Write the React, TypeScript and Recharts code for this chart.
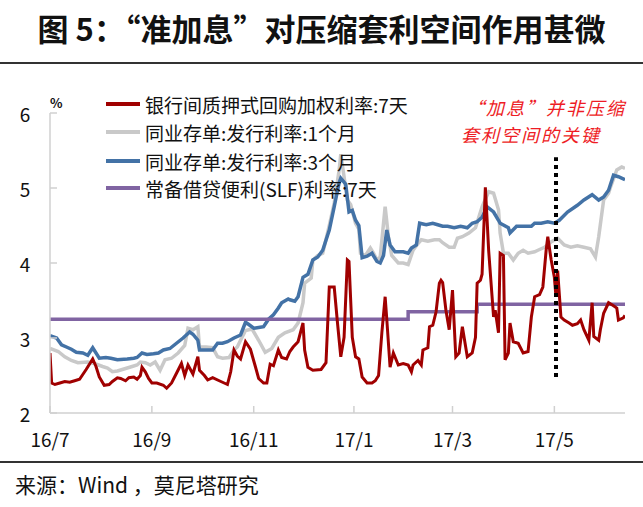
import { LineChart, Line, XAxis, YAxis, ReferenceLine } from "recharts";

// x values are day offsets from 2016-07-01 (approx)
const xTickDays = [0, 62, 124, 185, 245, 307];
const xTickLabels = ["16/7", "16/9", "16/11", "17/1", "17/3", "17/5"];
const yTicks = [2, 3, 4, 5, 6];

// 银行间质押式回购加权利率:7天
const repoDays = [
  0, 1, 3, 6, 9, 12, 15, 18, 22, 26, 28, 30, 33, 36, 38, 41, 43, 46, 48, 51, 53, 55, 56, 58, 60,
  62, 65, 69, 71, 74, 77, 80, 82, 84, 87, 90, 91, 94, 96, 99, 104, 108, 110, 112, 114, 116, 119,
  122, 125, 127, 130, 132, 134, 136, 139, 141, 144, 146, 148, 151, 154, 155, 157, 160, 165, 168,
  170, 173, 175, 177, 179, 181, 182, 184, 186, 188, 190, 193, 196, 198, 200, 202, 204, 205, 207,
  209, 212, 215, 218, 220, 221, 224, 226, 227, 230, 231, 233, 235, 237, 238, 239, 241, 243, 245,
  247, 249, 251, 254, 257, 259, 260, 262, 263, 265, 266, 267, 270, 271, 273, 274, 276, 277, 279,
  280, 282, 285, 288, 291, 293, 295, 298, 300, 302, 303, 305, 307, 308, 309, 311, 313, 316, 318,
  321, 323, 325, 328, 330, 331, 334, 335, 337, 340, 343, 345, 346, 349, 350,
];
const repoRates = [
  2.8, 2.4, 2.38, 2.4, 2.42, 2.41, 2.43, 2.45, 2.58, 2.72, 2.62, 2.48, 2.37, 2.38, 2.42, 2.47, 2.46,
  2.43, 2.47, 2.48, 2.45, 2.5, 2.61, 2.55, 2.46,
  2.4, 2.4, 2.37, 2.33, 2.4, 2.53, 2.66, 2.5, 2.64, 2.52, 2.75, 2.57, 2.5, 2.44, 2.47, 2.42, 2.38,
  2.55, 2.84, 2.76, 2.72, 2.95,
  2.85, 2.62, 2.46, 2.4, 2.4, 2.65, 2.63, 2.84, 2.74, 2.72, 2.82, 2.88, 2.95, 3.2, 2.84, 2.61, 2.57,
  2.58, 2.67,
  3.68, 3.68, 3.2, 2.75, 3.01, 4.04, 4.02, 3.01, 2.75, 2.72, 2.48, 2.4, 2.4, 2.43, 2.5, 3.07, 3.55,
  3.25, 2.61,
  2.8, 2.64, 2.66, 2.64, 2.55, 2.64, 2.7, 2.64, 2.84, 2.87, 3.15, 3.17, 3.35, 3.73, 3.77, 3.74, 3.37,
  3.11, 3.64,
  2.75, 2.8, 3.15, 2.75, 2.8, 3.01, 3.73, 3.77, 3.85, 5.01, 4.6, 4.17, 3.28, 3.37, 3.07, 4.13, 4.1,
  2.71, 2.8,
  3.2, 2.95, 2.93, 2.8, 2.82, 3.28, 3.55, 3.58, 3.68, 4.17, 4.35, 4.05, 3.81, 3.55, 3.9, 3.28, 3.24,
  3.2, 3.17,
  3.19, 3.24, 3.11, 2.97, 3.47, 3.02, 2.97, 3.11, 3.33, 3.47, 3.43, 3.4, 3.24, 3.27, 3.3,
];

// 同业存单:发行利率:1个月
const ncd1mDays = [
  0, 5, 9, 13, 17, 23, 27, 32, 35, 38, 41, 44, 47, 50, 53, 55, 58, 61, 64, 67, 70, 74, 78, 82, 84,
  87, 90, 91, 95, 99, 102, 105, 109, 112, 114, 116, 119, 123, 127, 131, 135, 139, 143, 148, 151,
  154, 155, 159, 160, 163, 166, 170, 173, 176, 177, 179, 181, 183, 186, 188, 189, 192, 195, 197,
  199, 201, 204, 206, 208, 212, 215, 218, 221, 224, 226, 230, 234, 237, 239, 243, 246, 248, 251,
  255, 259, 263, 267, 270, 273, 274, 276, 279, 282, 285, 288, 291, 295, 297, 301, 305, 309, 313,
  317, 321, 325, 329, 332, 334, 337, 340, 341, 345, 348, 350,
];
const ncd1mRates = [
  2.86, 2.82, 2.75, 2.7, 2.67, 2.68, 2.66, 2.62, 2.6, 2.55, 2.56, 2.58, 2.6, 2.62, 2.64, 2.68, 2.67,
  2.64, 2.68, 2.57, 2.71, 2.73, 2.8, 2.9, 3.13,
  3.11, 3.15, 2.88, 2.88, 2.87, 2.75, 2.73, 2.74, 2.84, 2.88, 2.97, 3.1, 3.12, 2.97, 2.81, 2.86,
  3.01, 3.07, 3.11, 3.2,
  3.47, 3.73, 3.8, 4.04, 4.1, 4.13, 4.5, 4.8, 5.24, 5.45, 5.15, 4.84, 4.78, 4.53, 4.45, 4.13, 4.1,
  4.2, 4.13,
  4.04, 4.08, 4.75, 4.35, 4.1, 4.0, 4.0, 3.98, 4.17, 4.26, 4.31, 4.29, 4.31, 4.31, 4.27, 4.21, 4.21,
  4.33, 4.35,
  4.4, 4.47, 4.75, 4.95, 4.93, 4.71, 4.4, 4.13, 4.13, 4.04, 4.13, 4.17, 4.13, 4.15, 4.17, 4.21,
  4.28, 4.33, 4.24,
  4.21, 4.23, 4.21, 4.19, 4.08, 4.35, 4.84, 4.93, 5.0, 5.24, 5.28, 5.26,
];

// 同业存单:发行利率:3个月
const ncd3mDays = [
  0, 4, 7, 10, 13, 16, 20, 23, 26, 30, 34, 37, 41, 47, 51, 53, 56, 59, 63, 66, 69, 73, 77, 81, 85,
  87, 90, 91, 96, 99, 102, 105, 108, 112, 116, 119, 121, 124, 127, 130, 133, 136, 139, 141, 145,
  146, 149, 151, 154, 157, 160, 163, 166, 170, 173, 176, 177, 180, 182, 184, 186, 188, 190, 193,
  196, 199, 201, 203, 205, 207, 210, 215, 218, 220, 223, 225, 229, 233, 236, 239, 242, 246, 250,
  254, 257, 260, 263, 266, 270, 273, 274, 279, 280, 284, 288, 293, 295, 299, 303, 307, 310, 315,
  321, 325, 330, 334, 337, 340, 343, 346, 350,
];
const ncd3mRates = [
  3.03, 3.0, 2.91, 2.88, 2.85, 2.81, 2.8, 2.77, 2.87, 2.73, 2.74, 2.73, 2.71, 2.72, 2.73, 2.74, 2.8,
  2.78, 2.79, 2.8, 2.84, 2.86, 2.93, 3.0, 3.08,
  3.05, 2.97, 2.84, 2.84, 2.84, 2.93, 2.93, 2.95, 3.0, 3.04, 3.21, 3.18, 3.13, 3.14, 3.15, 3.25,
  3.31, 3.4, 3.47, 3.52,
  3.51, 3.49, 3.55, 3.81, 3.85, 4.04, 4.08, 4.17, 4.44, 4.75, 5.07, 5.13, 5.05, 4.68, 4.7, 4.57,
  4.5, 4.07, 4.09,
  4.13, 4.02, 4.0, 4.1, 4.44, 4.24, 4.15, 4.15, 4.13, 4.2, 4.24, 4.53, 4.51, 4.53, 4.51, 4.49, 4.49,
  4.47, 4.49,
  4.47, 4.53, 4.55, 4.61, 4.75, 4.68, 4.57, 4.53, 4.47, 4.4, 4.49, 4.49, 4.49, 4.53, 4.53, 4.55,
  4.53, 4.57, 4.68,
  4.77, 4.84, 4.91, 4.84, 4.88, 4.97, 5.17, 5.15, 5.11,
];

// 常备借贷便利(SLF)利率:7天 (step changes)
const slfDays = [0, 218, 260, 350];
const slfRates = [3.25, 3.35, 3.45, 3.45];

// dotted marker for the "加息" date
const markerDay = 308;
const markerRange = [2.48, 5.41];

const toSeries = (days: number[], vals: number[]) =>
  days.map((d, i) => ({ day: d, v: vals[i] }));

const repoData = toSeries(repoDays, repoRates);
const ncd1mData = toSeries(ncd1mDays, ncd1mRates);
const ncd3mData = toSeries(ncd3mDays, ncd3mRates);
const slfData = toSeries(slfDays, slfRates);

const FONT = '"Noto Sans CJK SC", "Noto Sans", sans-serif';

const legendItems = [
  { name: "银行间质押式回购加权利率:7天", color: "#A00000", top: 104 },
  { name: "同业存单:发行利率:1个月", color: "#C9C9C9", top: 132 },
  { name: "同业存单:发行利率:3个月", color: "#4372A6", top: 161 },
  { name: "常备借贷便利(SLF)利率:7天", color: "#8064A2", top: 188 },
];

const noteLines = [
  { text: "“加息”并非压缩", left: 466, top: 94 },
  { text: "套利空间的关键", left: 461, top: 121 },
];

// eslint-disable-next-line @typescript-eslint/no-explicit-any
const YTick = ({ y, payload }: any) => (
  <text x={25} y={y} textAnchor="middle" dominantBaseline="central" fontSize={19} fill="#111" fontFamily={FONT}>
    {payload.value}
  </text>
);

// eslint-disable-next-line @typescript-eslint/no-explicit-any
const XTick = ({ x, payload }: any) => (
  <text x={x} y={447} textAnchor="middle" fontSize={19} fill="#111" fontFamily={FONT}>
    {xTickLabels[xTickDays.indexOf(payload.value)]}
  </text>
);

export default function App() {
  return (
    <div
      style={{
        position: "absolute",
        left: 0,
        top: 0,
        width: 643,
        height: 507,
        background: "#fff",
        fontFamily: FONT,
        overflow: "hidden",
      }}
    >
      <div
        style={{
          position: "absolute",
          top: 8,
          left: 0,
          width: 643,
          textAlign: "center",
          fontSize: 31,
          fontWeight: 700,
          lineHeight: "40px",
          color: "#111",
        }}
      >
        图 5：“准加息”对压缩套利空间作用甚微
      </div>
      <div style={{ position: "absolute", top: 62, left: 0, width: 643, height: 2, background: "#333" }} />

      <div style={{ position: "absolute", left: 0, top: 0 }}>
        <LineChart width={643} height={507} margin={{ top: 113, right: 18, bottom: 54, left: 0 }}>
          <XAxis
            dataKey="day"
            type="number"
            domain={[0, 350]}
            ticks={xTickDays}
            allowDataOverflow
            height={40}
            stroke="#D0D0D0"
            strokeWidth={1.5}
            tickSize={-7}
            tick={<XTick />}
          />
          <YAxis
            type="number"
            domain={[2, 6]}
            ticks={yTicks}
            width={50}
            stroke="#D0D0D0"
            strokeWidth={1.5}
            tickSize={-7}
            tick={<YTick />}
          />
          <Line
            data={ncd1mData}
            dataKey="v"
            type="linear"
            stroke="#C9C9C9"
            strokeWidth={3.5}
            dot={false}
            isAnimationActive={false}
          />
          <Line
            data={ncd3mData}
            dataKey="v"
            type="linear"
            stroke="#4372A6"
            strokeWidth={3.5}
            dot={false}
            isAnimationActive={false}
          />
          <Line
            data={slfData}
            dataKey="v"
            type="stepAfter"
            stroke="#8064A2"
            strokeWidth={3.5}
            dot={false}
            isAnimationActive={false}
          />
          <Line
            data={repoData}
            dataKey="v"
            type="linear"
            stroke="#A00000"
            strokeWidth={3}
            dot={false}
            isAnimationActive={false}
          />
          <ReferenceLine
            segment={[
              { x: markerDay, y: markerRange[0] },
              { x: markerDay, y: markerRange[1] },
            ]}
            stroke="#000"
            strokeWidth={4}
            strokeDasharray="4 4"
          />
        </LineChart>
      </div>

      <div style={{ position: "absolute", left: 50, top: 93, fontSize: 13, fontWeight: 700, color: "#111" }}>%</div>

      {legendItems.map((item) => (
        <div
          key={item.name}
          style={{
            position: "absolute",
            left: 106,
            top: item.top - 13,
            height: 26,
            display: "flex",
            alignItems: "center",
            fontSize: 19,
            color: "#111",
            whiteSpace: "nowrap",
          }}
        >
          <span style={{ display: "inline-block", width: 34, height: 4, background: item.color, marginRight: 5 }} />
          {item.name}
        </div>
      ))}

      {noteLines.map((line) => (
        <div
          key={line.text}
          style={{
            position: "absolute",
            left: line.left,
            top: line.top,
            fontSize: 18,
            fontStyle: "italic",
            color: "#EE1C25",
            lineHeight: "26px",
            letterSpacing: 2,
            whiteSpace: "nowrap",
          }}
        >
          {line.text}
        </div>
      ))}

      <div style={{ position: "absolute", top: 461, left: 0, width: 643, height: 2, background: "#333" }} />
      <div
        style={{
          position: "absolute",
          top: 469,
          left: 15,
          fontSize: 21,
          lineHeight: "30px",
          color: "#111",
          whiteSpace: "pre",
        }}
      >
        来源：Wind ，莫尼塔研究
      </div>
    </div>
  );
}
